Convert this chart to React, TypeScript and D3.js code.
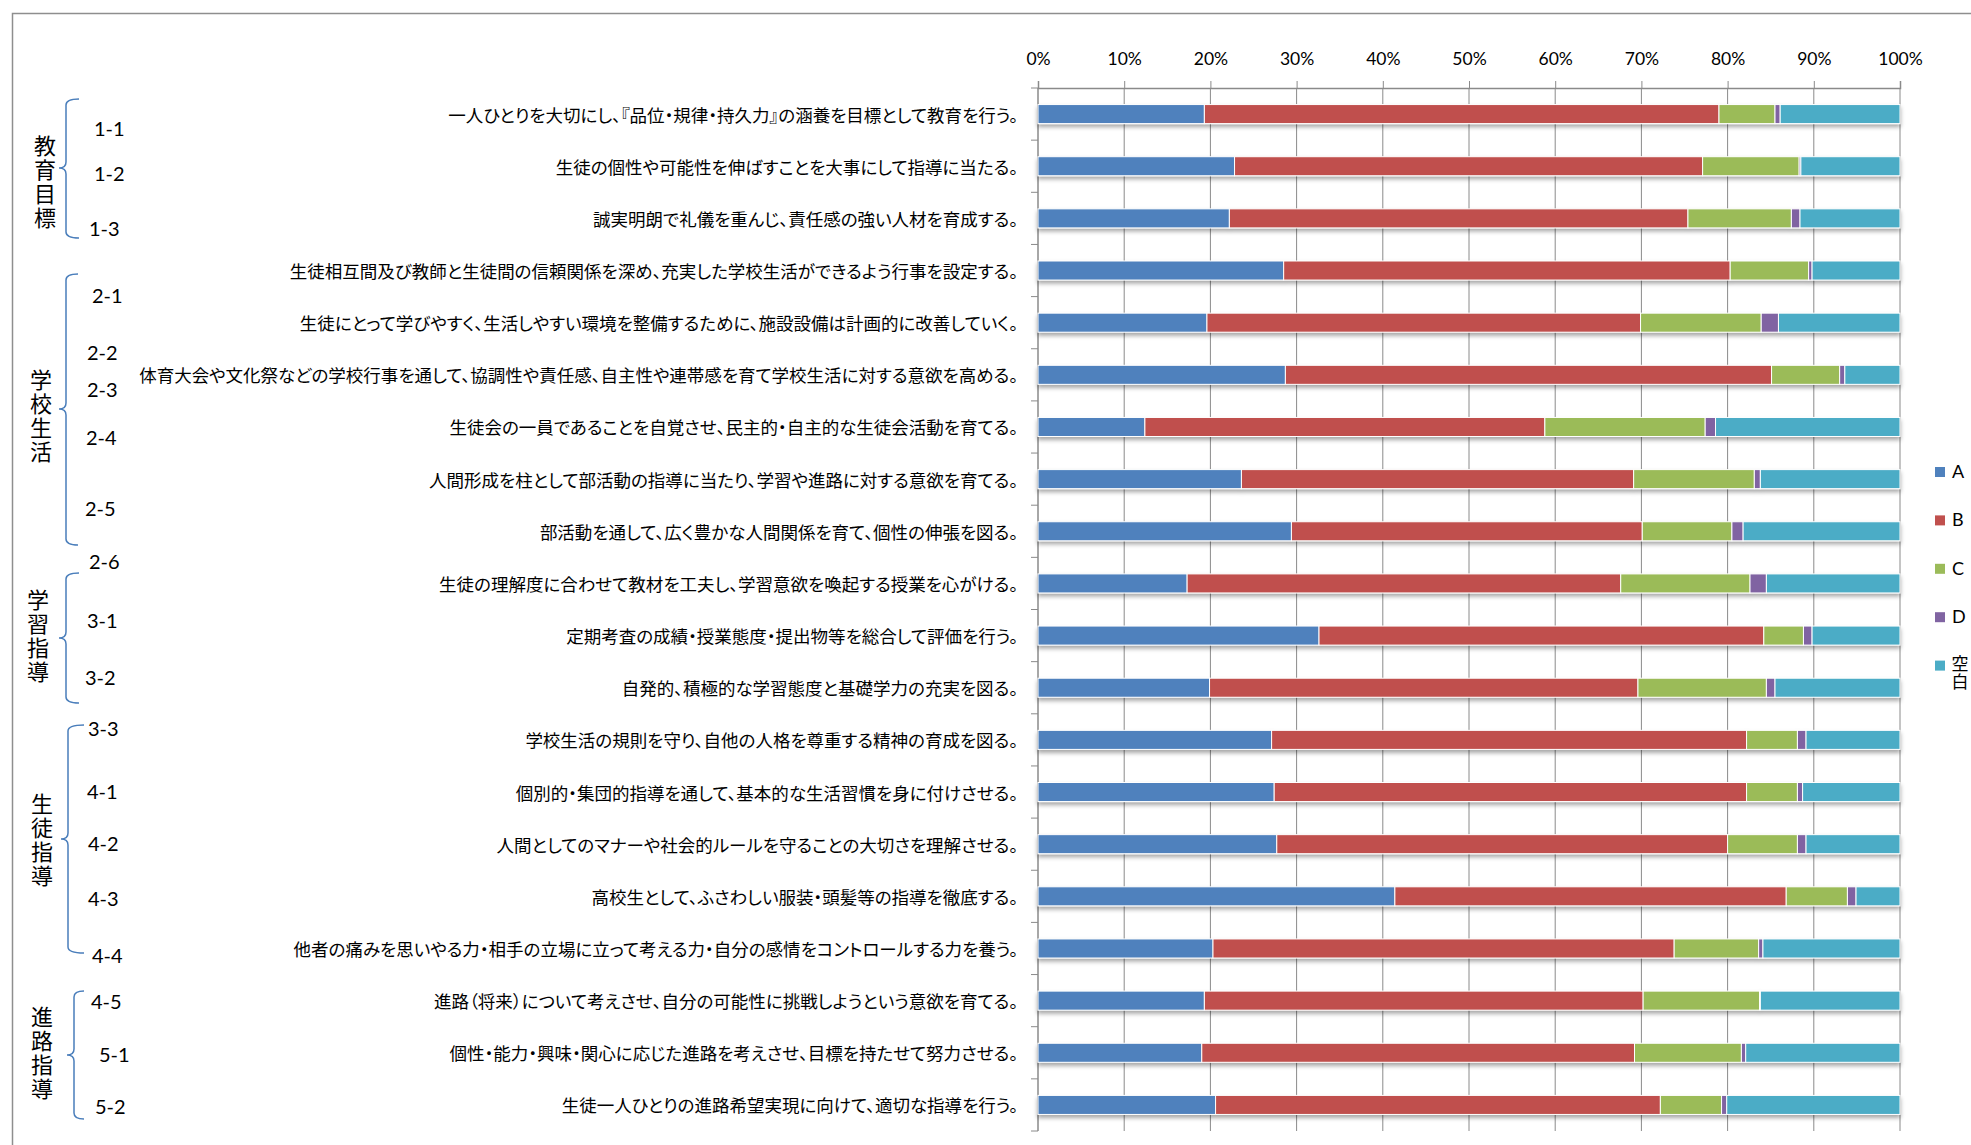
import React, { useEffect, useRef } from 'react';
import * as d3 from 'd3';

// Survey items (one bar each, top to bottom)
const items = [
  '一人ひとりを大切にし、『品位・規律・持久力』の涵養を目標として教育を行う。',
  '生徒の個性や可能性を伸ばすことを大事にして指導に当たる。',
  '誠実明朗で礼儀を重んじ、責任感の強い人材を育成する。',
  '生徒相互間及び教師と生徒間の信頼関係を深め、充実した学校生活ができるよう行事を設定する。',
  '生徒にとって学びやすく、生活しやすい環境を整備するために、施設設備は計画的に改善していく。',
  '体育大会や文化祭などの学校行事を通して、協調性や責任感、自主性や連帯感を育て学校生活に対する意欲を高める。',
  '生徒会の一員であることを自覚させ、民主的・自主的な生徒会活動を育てる。',
  '人間形成を柱として部活動の指導に当たり、学習や進路に対する意欲を育てる。',
  '部活動を通して、広く豊かな人間関係を育て、個性の伸張を図る。',
  '生徒の理解度に合わせて教材を工夫し、学習意欲を喚起する授業を心がける。',
  '定期考査の成績・授業態度・提出物等を総合して評価を行う。',
  '自発的、積極的な学習態度と基礎学力の充実を図る。',
  '学校生活の規則を守り、自他の人格を尊重する精神の育成を図る。',
  '個別的・集団的指導を通して、基本的な生活習慣を身に付けさせる。',
  '人間としてのマナーや社会的ルールを守ることの大切さを理解させる。',
  '高校生として、ふさわしい服装・頭髪等の指導を徹底する。',
  '他者の痛みを思いやる力・相手の立場に立って考える力・自分の感情をコントロールする力を養う。',
  '進路（将来）について考えさせ、自分の可能性に挑戦しようという意欲を育てる。',
  '個性・能力・興味・関心に応じた進路を考えさせ、目標を持たせて努力させる。',
  '生徒一人ひとりの進路希望実現に向けて、適切な指導を行う。',
];

const seriesNames = ['A', 'B', 'C', 'D', '空白'];

// percentages per series, same order as items
const valuesA = [19.3, 22.8, 22.2, 28.5, 19.6, 28.7, 12.4, 23.6, 29.4, 17.3, 32.6, 19.9, 27.1, 27.4, 27.7, 41.4, 20.3, 19.3, 19.0, 20.6];
const valuesB = [59.7, 54.3, 53.2, 51.8, 50.3, 56.4, 46.4, 45.5, 40.7, 50.3, 51.6, 49.7, 55.1, 54.8, 52.3, 45.4, 53.5, 50.9, 50.2, 51.6];
const valuesC = [6.5, 11.2, 12.0, 9.1, 14.0, 7.9, 18.6, 14.0, 10.4, 15.0, 4.6, 14.9, 5.9, 5.9, 8.1, 7.1, 9.8, 13.5, 12.4, 7.1];
const valuesD = [0.6, 0.2, 1.0, 0.4, 2.0, 0.6, 1.2, 0.7, 1.3, 1.9, 1.0, 1.0, 1.0, 0.6, 1.0, 1.0, 0.5, 0.1, 0.5, 0.6];
const valuesBlank = [13.9, 11.5, 11.6, 10.2, 14.1, 6.4, 21.4, 16.2, 18.2, 15.5, 10.2, 14.5, 10.9, 11.3, 10.9, 5.1, 15.9, 16.2, 17.9, 20.1];

const tickValues = [0, 0.1, 0.2, 0.3, 0.4, 0.5, 0.6, 0.7, 0.8, 0.9, 1];

// item codes and the section names written beside them
const codes = ['1-1', '1-2', '1-3', '2-1', '2-2', '2-3', '2-4', '2-5', '2-6', '3-1', '3-2', '3-3', '4-1', '4-2', '4-3', '4-4', '4-5', '5-1', '5-2'];
const groups = ['教育目標', '学校生活', '学習指導', '生徒指導', '進路指導'];

// free-floating text boxes / braces of the original sheet (layout only)
const codeLayout = [
  [94, 128], [94, 173], [89, 228], [92, 295], [87, 352], [87, 389], [86, 437], [85, 508], [89, 561],
  [87, 620], [85, 677], [88, 728], [87, 791], [88, 843], [88, 898], [92, 955], [91, 1001], [99, 1054], [95, 1106],
];
const braceLayout = [
  { x: 66, hook: 79, top: 99, mid: 168, bottom: 238, textX: 45, textY: 146 },
  { x: 66, hook: 78, top: 274, mid: 409, bottom: 545, textX: 41, textY: 380 },
  { x: 66, hook: 79, top: 573, mid: 638, bottom: 703, textX: 38, textY: 600 },
  { x: 68, hook: 84, top: 725, mid: 839, bottom: 953, textX: 42, textY: 804 },
  { x: 74, hook: 84, top: 991, mid: 1055, bottom: 1119, textX: 42, textY: 1017 },
];

const COLORS = ['#4F81BD', '#C0504D', '#9BBB59', '#8064A2', '#4BACC6'];
const JP = '"Noto Sans CJK JP", sans-serif';
const LATIN = 'Lato, "Noto Sans", sans-serif';
const W = 1971;
const H = 1145;

const App: React.FC = () => {
  const svgRef = useRef<SVGSVGElement>(null);

  useEffect(() => {
    const svg = d3.select(svgRef.current);
    svg.selectAll('*').remove();

    const margin = { left: 1038, right: 1900, top: 88, bottom: 1131 };

    const rows = items.map((label, i) => ({
      label,
      A: valuesA[i],
      B: valuesB[i],
      C: valuesC[i],
      D: valuesD[i],
      '空白': valuesBlank[i],
    }));

    const xScale = d3.scaleLinear().domain([0, 1]).range([margin.left, margin.right]);
    const yScale = d3.scaleBand<string>()
      .domain(items)
      .range([margin.top, margin.bottom])
      .paddingInner(0.635)
      .paddingOuter(0.3175);

    const stacked = d3.stack<any>().keys(seriesNames).offset(d3.stackOffsetExpand)(rows);

    // sheet frame
    svg.append('rect')
      .attr('x', 12.5).attr('y', 13.5)
      .attr('width', W).attr('height', H)
      .attr('fill', 'none')
      .attr('stroke', '#8e8e8e')
      .attr('stroke-width', 1.5);

    const defs = svg.append('defs');
    defs.append('filter')
      .attr('id', 'barShadow')
      .attr('x', '-5%').attr('y', '-50%').attr('width', '110%').attr('height', '220%')
      .append('feDropShadow')
      .attr('dx', 0).attr('dy', 3)
      .attr('stdDeviation', 2)
      .attr('flood-color', '#000')
      .attr('flood-opacity', 0.35);

    // vertical grid lines
    svg.append('g')
      .selectAll('line')
      .data(tickValues.slice(1))
      .enter()
      .append('line')
      .attr('x1', d => xScale(d)).attr('x2', d => xScale(d))
      .attr('y1', margin.top).attr('y2', margin.bottom)
      .attr('stroke', '#8a8a8a')
      .attr('stroke-width', 1);

    // top axis
    svg.append('g')
      .attr('transform', `translate(0,${margin.top})`)
      .call(d3.axisTop(xScale).tickValues(tickValues).tickSize(7).tickPadding(16).tickFormat(d3.format('.0%')))
      .call(g => g.select('.domain').attr('stroke', '#8a8a8a').attr('stroke-width', 1.5))
      .call(g => g.selectAll('.tick line').attr('stroke', '#8a8a8a'))
      .call(g => g.selectAll('.tick text')
        .attr('fill', '#000')
        .attr('font-family', LATIN)
        .attr('font-size', 17.5));

    // category axis with ticks between bars
    const boundaries = items.map(d => (yScale(d) as number) - (yScale.step() - yScale.bandwidth()) / 2);
    boundaries.push(margin.bottom);
    svg.append('line')
      .attr('x1', margin.left).attr('x2', margin.left)
      .attr('y1', margin.top).attr('y2', margin.bottom)
      .attr('stroke', '#8a8a8a').attr('stroke-width', 1.5);
    svg.append('g')
      .selectAll('line')
      .data(boundaries)
      .enter()
      .append('line')
      .attr('x1', margin.left - 7).attr('x2', margin.left)
      .attr('y1', d => d).attr('y2', d => d)
      .attr('stroke', '#8a8a8a');

    // stacked bars
    const barLayer = svg.append('g').attr('filter', 'url(#barShadow)');
    barLayer.selectAll('g')
      .data(stacked)
      .enter()
      .append('g')
      .attr('fill', (_, i) => COLORS[i])
      .selectAll('rect')
      .data(d => d)
      .enter()
      .append('rect')
      .attr('x', d => xScale(d[0]))
      .attr('y', d => yScale(d.data.label) as number)
      .attr('width', d => Math.max(0, xScale(d[1]) - xScale(d[0])))
      .attr('height', yScale.bandwidth())
      .attr('stroke', '#fff')
      .attr('stroke-width', 1);

    // item labels
    svg.append('g')
      .selectAll('text')
      .data(items)
      .enter()
      .append('text')
      .attr('x', margin.left - 20)
      .attr('y', d => (yScale(d) as number) + yScale.bandwidth() / 2)
      .attr('text-anchor', 'end')
      .attr('dominant-baseline', 'central')
      .attr('font-family', JP)
      .attr('font-size', 17.5)
      .style('font-feature-settings', '"palt" 1')
      .attr('fill', '#000')
      .text(d => d);

    // item codes
    svg.append('g')
      .selectAll('text')
      .data(codes)
      .enter()
      .append('text')
      .attr('x', (_, i) => codeLayout[i][0])
      .attr('y', (_, i) => codeLayout[i][1])
      .attr('dominant-baseline', 'central')
      .attr('font-family', LATIN)
      .attr('font-size', 20)
      .attr('fill', '#000')
      .text(d => d);

    // section braces
    const bracePath = (b: typeof braceLayout[0]) => {
      const r = 6;
      const tip = b.x - 7;
      return [
        `M${b.hook},${b.top}`,
        `Q${b.x},${b.top} ${b.x},${b.top + r}`,
        `L${b.x},${b.mid - r}`,
        `Q${b.x},${b.mid} ${tip},${b.mid}`,
        `Q${b.x},${b.mid} ${b.x},${b.mid + r}`,
        `L${b.x},${b.bottom - r}`,
        `Q${b.x},${b.bottom} ${b.hook},${b.bottom}`,
      ].join(' ');
    };
    svg.append('g')
      .selectAll('path')
      .data(braceLayout)
      .enter()
      .append('path')
      .attr('d', d => bracePath(d))
      .attr('fill', 'none')
      .attr('stroke', '#4A7EBB')
      .attr('stroke-width', 1.5);

    // section names, written vertically
    svg.append('g')
      .selectAll('text')
      .data(groups)
      .enter()
      .append('text')
      .attr('x', (_, i) => braceLayout[i].textX)
      .attr('y', (_, i) => braceLayout[i].textY - 11)
      .style('writing-mode', 'vertical-rl')
      .style('letter-spacing', '2px')
      .attr('font-family', JP)
      .attr('font-size', 22)
      .attr('fill', '#000')
      .text(d => d);

    // legend
    const legend = svg.append('g')
      .selectAll('g')
      .data(seriesNames)
      .enter()
      .append('g')
      .attr('transform', (_, i) => `translate(1935,${472 + i * 48.4})`);
    legend.append('rect')
      .attr('x', 0).attr('y', -5)
      .attr('width', 10).attr('height', 10)
      .attr('fill', (_, i) => COLORS[i]);
    // the legend is squeezed at the sheet edge, so longer names wrap one char per line
    legend.filter(d => d.length === 1)
      .append('text')
      .attr('x', 17).attr('y', -1)
      .attr('dominant-baseline', 'central')
      .attr('font-family', LATIN)
      .attr('font-size', 18)
      .attr('fill', '#000')
      .text(d => d);
    legend.filter(d => d.length > 1)
      .append('text')
      .attr('x', 25).attr('y', -11)
      .style('writing-mode', 'vertical-rl')
      .style('letter-spacing', '1px')
      .attr('font-family', JP)
      .attr('font-size', 17)
      .attr('fill', '#000')
      .text(d => d);
  }, []);

  return (
    <div style={{ width: W, height: H, overflow: 'hidden', background: '#fff' }}>
      <style>{'body{margin:0}'}</style>
      <svg ref={svgRef} width={W} height={H} style={{ display: 'block', background: '#fff' }} />
    </div>
  );
};

export default App;
